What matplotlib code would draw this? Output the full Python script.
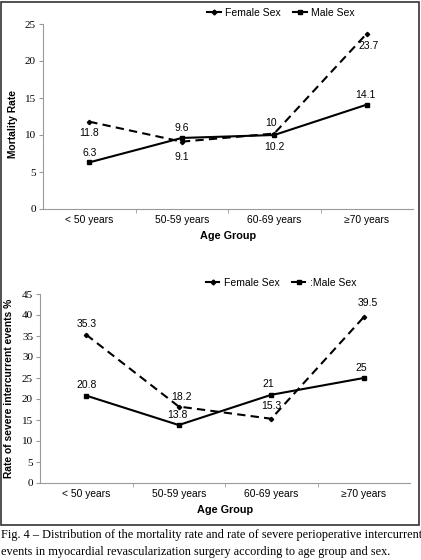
import matplotlib.pyplot as plt
from matplotlib.lines import Line2D
from matplotlib.patches import Rectangle

# 数据
age_groups = ['< 50 years', '50-59 years', '60-69 years', '\u226570 years']
mort_female = [11.8, 9.1, 10.2, 23.7]
mort_male = [6.3, 9.6, 10.0, 14.1]
event_female = [35.3, 18.2, 15.3, 39.5]
event_male = [20.8, 13.8, 21.0, 25.0]

W, H = 421, 560
sans = ['Liberation Sans', 'DejaVu Sans']
serif = ['Liberation Serif', 'DejaVu Serif']
grey = '#9a9a9a'

fig = plt.figure(figsize=(W / 100, H / 100), dpi=100)


def px_axes(left, top, right, bottom):
    return fig.add_axes([left / W, 1 - bottom / H, (right - left) / W, (bottom - top) / H])


def style_axes(ax, ymax, step, ylabel):
    x = range(len(age_groups))
    ax.set_xlim(-0.5, 3.5)
    ax.set_ylim(0, ymax)
    ax.set_yticks(range(0, ymax + 1, step))
    ax.set_yticklabels([str(v) for v in range(0, ymax + 1, step)], family=serif, fontsize=8)
    ax.set_xticks(list(x))
    ax.set_xticklabels(age_groups, family=sans, fontsize=7.4)
    ax.set_xticks([0.5, 1.5, 2.5], minor=True)
    ax.tick_params(axis='x', which='major', length=0, pad=4.5)
    ax.tick_params(axis='x', which='minor', length=3, color=grey, direction='out')
    ax.tick_params(axis='y', length=3, color=grey, pad=2)
    for s in ['top', 'right']:
        ax.spines[s].set_visible(False)
    for s in ['left', 'bottom']:
        ax.spines[s].set_color(grey)
        ax.spines[s].set_linewidth(0.8)
    ax.set_xlabel('Age Group', family=sans, fontsize=7.8, fontweight='bold', labelpad=4)
    ax.set_ylabel(ylabel, family=sans, fontsize=7.4, fontweight='bold', labelpad=6)


def draw_lines(ax, female, male, off_f, off_m):
    x = range(len(age_groups))
    ax.plot(x, female, color='black', lw=1.5, ls=(0, (4, 2.5)), marker='D', ms=2.2)
    ax.plot(x, male, color='black', lw=1.5, marker='s', ms=2.5)
    for vals, offs in [(female, off_f), (male, off_m)]:
        for i, v in enumerate(vals):
            ax.annotate(f'{v:g}', (i, v), xytext=offs[i], textcoords='offset points',
                        ha='center', va='center', family=sans, fontsize=7.5)


def legend(y, male_label):
    handles = [Line2D([], [], color='black', lw=1.5, marker='D', ms=2.5),
               Line2D([], [], color='black', lw=1.5, marker='s', ms=2.5)]
    fig.legend(handles, ['Female Sex', male_label], loc='center', ncol=2,
               bbox_to_anchor=(281 / W, 1 - y / H), frameon=False,
               prop={'family': sans, 'size': 7.5},
               handlelength=1.3, handletextpad=0.4, columnspacing=1.2)


# 上图：死亡率
ax1 = px_axes(43, 24, 413, 209)
style_axes(ax1, 25, 5, 'Mortality Rate')
ax1.yaxis.set_label_coords(-0.068, 0.46)
draw_lines(ax1, mort_female, mort_male,
           [(0, -8), (0, -11), (0, -10), (1, -9)],
           [(0, 7), (0, 7), (-2, 9), (-1, 7)])
legend(13, 'Male Sex')

# 下图：严重围手术期事件发生率
ax2 = px_axes(40, 294, 410, 483)
style_axes(ax2, 45, 5, 'Rate of severe intercurrent events %')
draw_lines(ax2, event_female, event_male,
           [(0, 8), (2, 7), (0, 9), (3, 10)],
           [(0, 8), (-1, 7), (-2, 8), (-2, 7)])
legend(283, ':Male Sex')

# 外框
fig.patches.append(Rectangle((1 / W, 1 - 525 / H), (W - 3) / W, (524 - 1) / H,
                             transform=fig.transFigure, fill=False, ec='#333333', lw=1.2))

# 图注
fig.text(1 / W, 1 - 535 / H,
         'Fig. 4 \u2013 Distribution of the mortality rate and rate of severe perioperative intercurrent',
         family=serif, fontsize=8.85, va='center', ha='left')
fig.text(1 / W, 1 - 552 / H,
         'events in myocardial revascularization surgery according to age group and sex.',
         family=serif, fontsize=8.85, va='center', ha='left')

fig.savefig('out.png', dpi=100)
